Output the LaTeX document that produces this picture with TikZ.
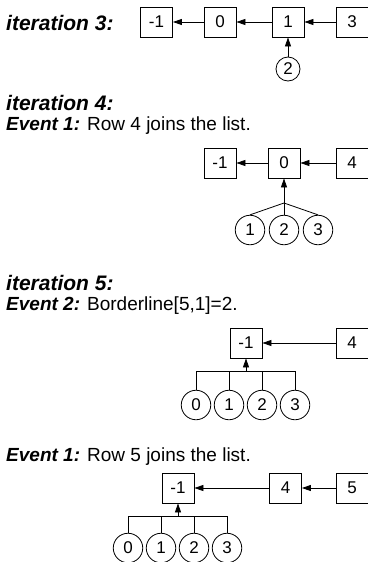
\documentclass[tikz,border=0pt]{standalone}
\usepackage{fontspec}
\setmainfont{Liberation Sans}
\usetikzlibrary{arrows.meta}

\tikzset{
    cell/.style={draw, line width=0.8pt, minimum width=32pt, minimum height=30pt, inner sep=0pt, font=\fontsize{17}{19}\selectfont},
    rowc/.style={draw, circle, line width=0.8pt, minimum size=29.5pt, inner sep=0pt, font=\fontsize{17}{19}\selectfont},
    link/.style={line width=0.8pt, -{Triangle[length=9pt,width=6pt]}},
    tie/.style={line width=0.8pt},
    heading/.style={anchor=base west, inner sep=0pt, font=\fontsize{21}{24}\selectfont\bfseries\itshape},
    event/.style={anchor=base west, inner sep=0pt, font=\fontsize{19}{22}\selectfont},
}

\begin{document}
\begin{tikzpicture}[x=1pt, y=-1pt]
    \useasboundingbox (0,0) rectangle (367,562);

    % iteration 3
    \begin{scope}
        \node[heading] (it3) at (6,30) {iteration 3:};
        \node[cell] (a0) at (156.5,22) {-1};
        \node[cell] (a1) at (220,22) {0};
        \node[cell] (a2) at (288,22) {1};
        \node[cell] (a3) at (352,22) {3};
        \node[rowc, minimum size=24pt] (ac) at (288,69) {2};
        \draw[link] (a3) -- (a2);
        \draw[link] (a2) -- (a1);
        \draw[link] (a1) -- (a0);
        \draw[link] (ac) -- (a2);
    \end{scope}

    % iteration 4, event 1
    \begin{scope}
        \node[heading] (it4) at (6,110) {iteration 4:};
        \node[event] (ev4) at (6,130) {{\bfseries\itshape Event 1:} Row 4 joins the list.};
        \node[cell] (b0) at (220,163) {-1};
        \node[cell] (b1) at (284,163) {0};
        \node[cell] (b2) at (352,163) {4};
        \coordinate (j4) at (284,203);
        \node[rowc] (bc1) at (250,230) {1};
        \node[rowc] (bc2) at (284,230) {2};
        \node[rowc] (bc3) at (318,230) {3};
        \draw[link] (b2) -- (b1);
        \draw[link] (b1) -- (b0);
        \draw[link] (j4) -- (b1);
        \foreach \k in {1,2,3}
            \draw[tie] (j4) -- (bc\k.north);
    \end{scope}

    % iteration 5, event 2
    \begin{scope}
        \node[heading] (it5) at (6,290) {iteration 5:};
        \node[event] (ev5) at (6,310) {{\bfseries\itshape Event 2:} Borderline[5,1]=2.};
        \node[cell] (c0) at (246,343) {-1};
        \node[cell] (c1) at (352,343) {4};
        \coordinate (j5) at (246,371);
        \foreach \k in {0,...,3}
            \node[rowc] (cc\k) at (196+33*\k,405) {\k};
        \draw[link] (c1) -- (c0);
        \draw[link] (j5) -- (c0);
        \draw[tie] (cc0.north |- j5) -- (cc3.north |- j5);
        \foreach \k in {0,...,3}
            \draw[tie] (cc\k.north) -- (cc\k.north |- j5);
    \end{scope}

    % iteration 5, event 1
    \begin{scope}
        \node[event] (ev6) at (6,461) {{\bfseries\itshape Event 1:} Row 5 joins the list.};
        \node[cell] (d0) at (178,488) {-1};
        \node[cell] (d1) at (285.5,488) {4};
        \node[cell] (d2) at (352,488) {5};
        \coordinate (j6) at (178,516);
        \foreach \k in {0,...,3}
            \node[rowc] (dc\k) at (128+33*\k,548) {\k};
        \draw[link] (d2) -- (d1);
        \draw[link] (d1) -- (d0);
        \draw[link] (j6) -- (d0);
        \draw[tie] (dc0.north |- j6) -- (dc3.north |- j6);
        \foreach \k in {0,...,3}
            \draw[tie] (dc\k.north) -- (dc\k.north |- j6);
    \end{scope}
\end{tikzpicture}
\end{document}
